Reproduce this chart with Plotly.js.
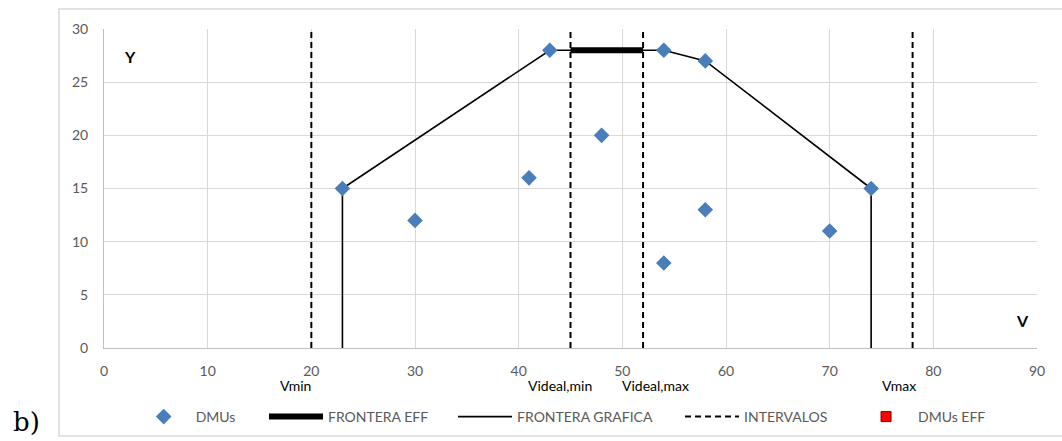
<!DOCTYPE html>
<html>
<head>
<meta charset="utf-8">
<script src="https://cdn.plot.ly/plotly-3.0.1.min.js"></script>
<style>html,body{margin:0;padding:0;background:#fff;}#chart{width:1062px;height:441px;}</style>
</head>
<body>
<div id="chart"></div>
<script>
// DMUs
const dmuV = [23, 30, 41, 43, 48, 54, 54, 58, 58, 70, 74];
const dmuY = [15, 12, 16, 28, 20, 28, 8, 27, 13, 11, 15];
// Efficient frontier segment
const effV = [45, 52];
const effY = [28, 28];
// Graphical frontier
const frontV = [23, 23, 43, 54, 58, 74, 74];
const frontY = [0, 15, 28, 28, 27, 15, 0];
// Interval lines
const intervalV = [20, 45, 52, 78];
const intervalLabels = ["Vmin", "Videal,min", "Videal,max", "Vmax"];
const intervalLabelV = [18.5, 44, 53.2, 76.7];
const yRange = [0, 30];
const xTicks = [0, 10, 20, 30, 40, 50, 60, 70, 80, 90];
const yTicks = [0, 5, 10, 15, 20, 25, 30];

const intX = [], intY = [];
intervalV.forEach(v => { intX.push(v, v, null); intY.push(yRange[0], yRange[1], null); });

const font = "Lato, 'Open Sans', sans-serif";
const traces = [
  {x: frontV, y: frontY, mode: 'lines', name: 'FRONTERA GRAFICA', legend: 'legend3',
   line: {color: '#000', width: 1.6}},
  {x: intX, y: intY, mode: 'lines', name: 'INTERVALOS', legend: 'legend4',
   line: {color: '#000', width: 2, dash: '6px,4px'}},
  {x: effV, y: effY, mode: 'lines', name: 'FRONTERA EFF', legend: 'legend2',
   line: {color: '#000', width: 6}},
  {x: [null], y: [null], mode: 'markers', name: 'DMUs EFF', legend: 'legend5',
   marker: {symbol: 'square', color: '#ff0000', size: 10, line: {color: '#7f0000', width: 1}}},
  {x: dmuV, y: dmuY, mode: 'markers', name: 'DMUs', legend: 'legend',
   marker: {symbol: 'diamond', color: '#4a7ebb', size: 12}}
];

const legendX = [0.0297, 0.1715, 0.3741, 0.6174, 0.8039];
function mkLegend(x) {
  return {orientation: 'h', x: x, y: -0.2163, yanchor: 'middle', xanchor: 'left',
    font: {family: font, size: 14, color: '#595959'}, itemwidth: 54, bgcolor: 'rgba(0,0,0,0)'};
}

const annotations = intervalLabels.map((t, i) => ({
  x: intervalLabelV[i], y: -0.116, xref: 'x', yref: 'paper', yanchor: 'middle', text: t, showarrow: false,
  font: {family: font, size: 14, color: '#000'}
}));
annotations.push({x: 2.5, y: 27.4, xref: 'x', yref: 'y', text: '<b>Y</b>', showarrow: false,
  font: {family: font, size: 16, color: '#000'}});
annotations.push({x: 88.6, y: 2.6, xref: 'x', yref: 'y', text: '<b>V</b>', showarrow: false,
  font: {family: font, size: 16, color: '#000'}});
annotations.push({x: -0.1, y: -0.233, xref: 'paper', yref: 'paper', text: 'b)', showarrow: false,
  xanchor: 'left', yanchor: 'middle', font: {family: "'DejaVu Serif', serif", size: 26, color: '#000'}});

const layout = {
  width: 1062, height: 441,
  margin: {l: 104, r: 25, t: 29, b: 93, autoexpand: false},
  paper_bgcolor: '#fff', plot_bgcolor: '#fff',
  font: {family: font, size: 14, color: '#595959'},
  showlegend: true,
  legend: mkLegend(legendX[0]),
  legend2: mkLegend(legendX[1]),
  legend3: mkLegend(legendX[2]),
  legend4: mkLegend(legendX[3]),
  legend5: mkLegend(legendX[4]),
  xaxis: {range: [0, 90], tickvals: xTicks, showgrid: true, gridcolor: '#d9d9d9',
    showline: true, linecolor: '#bfbfbf', zeroline: false, ticks: '', ticklabelstandoff: 10, fixedrange: true},
  yaxis: {range: yRange, tickvals: yTicks, showgrid: true, gridcolor: '#d9d9d9',
    showline: true, linecolor: '#bfbfbf', zeroline: false, ticks: '', ticklabelstandoff: 12, fixedrange: true},
  shapes: [
    {type: 'rect', xref: 'paper', yref: 'paper', x0: -0.0482, x1: 1.08, y0: -0.2759, y1: 1.0627,
     line: {color: '#d9d9d9', width: 1.5}, fillcolor: 'rgba(0,0,0,0)', layer: 'below'}
  ],
  annotations: annotations
};

Plotly.newPlot('chart', traces, layout, {displayModeBar: false, staticPlot: true});
</script>
</body>
</html>
